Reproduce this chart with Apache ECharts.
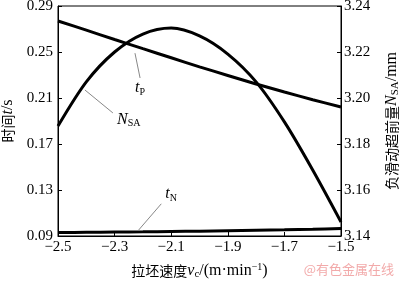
<!DOCTYPE html>
<html><head><meta charset="utf-8">
<script src="https://cdn.jsdelivr.net/npm/echarts@6/dist/echarts.min.js"></script>
<style>html,body{margin:0;padding:0;background:#fff}#c{width:400px;height:282px}</style>
</head><body><div id="c"></div>
<script>
// ---- data ----
const speeds = [-2.5, -2.4, -2.3, -2.2, -2.1, -2.0, -1.9, -1.8, -1.7, -1.6, -1.5];
const tP     = [0.277, 0.269, 0.2609, 0.2529, 0.2450, 0.2371, 0.2296, 0.2222, 0.2152, 0.2085, 0.2022];
const tN     = [0.0930, 0.0932, 0.0934, 0.0936, 0.0939, 0.0942, 0.0946, 0.0950, 0.0954, 0.0959, 0.0965];
const NSA    = [3.1878, 3.2070, 3.2200, 3.2278, 3.2304, 3.2270, 3.2191, 3.2070, 3.1896, 3.1687, 3.1461];
const xTicks = {min: -2.5, max: -1.5, interval: 0.2};
const yLeftTicks = {min: 0.09, max: 0.29, interval: 0.04};
const yRightTicks = {min: 3.14, max: 3.24, interval: 0.02};
// annotation anchors (data coordinates): leader line [from, to], label point
const annTP  = {line: [[-2.228, 0.249], [-2.210, 0.2274]], label: [-2.21, 0.2185]};
const annNSA = {line: [[-2.405, 3.2035], [-2.306, 3.1935]], label: [-2.25, 3.1905]};
const annTN  = {line: [[-2.135, 0.1180], [-2.215, 0.0952]], label: [-2.1, 0.1265]};

const serif = '"Liberation Serif", "Times New Roman", serif';
const cjk = '"Noto Sans CJK SC", sans-serif';
const fmtMinus = v => (v < 0 ? '\u2212' + Math.abs(v).toFixed(1) : v.toFixed(1));

const richBase = {
  i: {fontFamily: serif, fontStyle: 'italic', fontSize: 16, color: '#000'},
  s: {fontFamily: serif, fontSize: 11, color: '#000', padding: [7, 0, 0, 0]},
  t: {fontFamily: serif, fontSize: 16, color: '#000'},
  sup: {fontFamily: serif, fontSize: 10, color: '#000', padding: [0, 0, 7, 0]},
  n: {fontFamily: cjk, fontSize: 14, color: '#000'}
};

const toPairs = ys => speeds.map((x, i) => [x, ys[i]]);
const leader = a => ({
  silent: true, symbol: ['none', 'none'],
  lineStyle: {color: '#888', width: 1, type: 'solid'},
  label: {show: false},
  data: [[{coord: a.line[0]}, {coord: a.line[1]}]]
});
const tag = (a, text) => ({
  silent: true, symbol: 'circle', symbolSize: 0,
  label: {show: true, position: 'inside', formatter: text, rich: {
    i: {fontFamily: serif, fontStyle: 'italic', fontSize: 16, color: '#000'},
    s: {fontFamily: serif, fontSize: 10, color: '#000', padding: [8, 0, 0, 0]}
  }},
  data: [{coord: a.label}]
});

const chart = echarts.init(document.getElementById('c'), null, {renderer: 'canvas'});
chart.setOption({
  animation: false,
  backgroundColor: '#fff',
  grid: {left: 58, right: 59, top: 6, bottom: 46, show: true, borderColor: '#000', borderWidth: 1,
         containLabel: false, outerBoundsMode: 'none'},
  xAxis: {
    type: 'value', min: xTicks.min, max: xTicks.max, interval: xTicks.interval,
    axisLine: {show: true, lineStyle: {color: '#000', width: 1}},
    axisTick: {show: true, inside: true, length: 4, lineStyle: {color: '#000'}},
    splitLine: {show: false},
    axisLabel: {color: '#000', fontFamily: serif, fontSize: 15, margin: 4, formatter: fmtMinus},
    name: '{n|拉坯速度}{i|v}{s|c}{t|/(m·min}{sup|−1}{t|)}',
    nameLocation: 'middle', nameGap: 26,
    nameTextStyle: {fontSize: 14, rich: richBase}
  },
  yAxis: [{
    type: 'value', min: yLeftTicks.min, max: yLeftTicks.max, interval: yLeftTicks.interval,
    axisLine: {show: true, lineStyle: {color: '#000', width: 1}},
    axisTick: {show: true, inside: true, length: 4, lineStyle: {color: '#000'}},
    splitLine: {show: false},
    axisLabel: {color: '#000', fontFamily: serif, fontSize: 15, margin: 5, formatter: v => v.toFixed(2)},
    name: '{n|时间}{i|t}{t|/s}', nameLocation: 'middle', nameRotate: 90, nameGap: 33,
    nameTextStyle: {fontSize: 14, rich: richBase}
  }, {
    type: 'value', position: 'right', min: yRightTicks.min, max: yRightTicks.max, interval: yRightTicks.interval,
    axisLine: {show: true, lineStyle: {color: '#000', width: 1}},
    axisTick: {show: true, inside: true, length: 4, lineStyle: {color: '#000'}},
    splitLine: {show: false},
    axisLabel: {color: '#000', fontFamily: serif, fontSize: 15, margin: 3, formatter: v => v.toFixed(2)},
    name: '{n|负滑动超前量}{i|N}{s|SA}{t|/mm}', nameLocation: 'middle', nameRotate: 90, nameGap: 42,
    nameTextStyle: {fontSize: 14, rich: richBase}
  }],
  series: [{
    name: 'tP', type: 'line', yAxisIndex: 0, data: toPairs(tP), smooth: 0.3,
    showSymbol: false, lineStyle: {color: '#000', width: 3},
    markLine: leader(annTP), markPoint: tag(annTP, '{i|t}{s|P}')
  }, {
    name: 'NSA', type: 'line', yAxisIndex: 1, data: toPairs(NSA), smooth: 0.3,
    showSymbol: false, lineStyle: {color: '#000', width: 3},
    markLine: leader(annNSA), markPoint: tag(annNSA, '{i|N}{s|SA}')
  }, {
    name: 'tN', type: 'line', yAxisIndex: 0, data: toPairs(tN), smooth: 0.3,
    showSymbol: false, lineStyle: {color: '#000', width: 3},
    markLine: leader(annTN), markPoint: tag(annTN, '{i|t}{s|N}')
  }],
  graphic: [{
    type: 'text', right: 6, bottom: 6,
    style: {text: '@有色金属在线', fill: '#f2aaaa', font: '13px "Noto Sans CJK SC", sans-serif'}
  }]
});
</script></body></html>
